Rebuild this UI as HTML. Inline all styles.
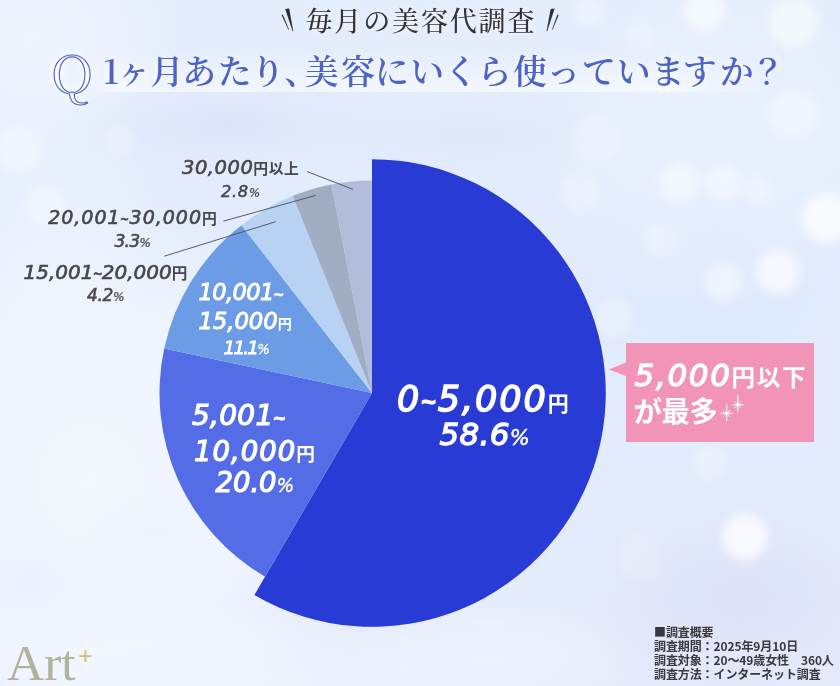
<!DOCTYPE html>
<html lang="ja">
<head>
<meta charset="utf-8">
<style>
*{margin:0;padding:0;box-sizing:border-box}
html,body{width:840px;height:686px;overflow:hidden}
body{position:relative;background:#e6edfb;font-family:"Liberation Sans","Noto Sans CJK JP",sans-serif}
#bg{position:absolute;left:0;top:0;width:840px;height:686px}
.t{position:absolute;white-space:nowrap;line-height:1}
.num{font-family:"DejaVu Sans",sans-serif;font-weight:400;font-style:oblique;-webkit-text-stroke:0.6px currentColor}
.tl{font-family:"Liberation Sans",sans-serif;font-style:normal;font-weight:700;position:relative;top:0;-webkit-text-stroke-width:0.04em}
.pc{-webkit-text-stroke-width:0.02em}
.jp{font-family:"Noto Sans CJK JP",sans-serif;font-style:normal;font-weight:700;-webkit-text-stroke:0}
.gray{color:#46474c}
.white{color:#fff}
</style>
</head>
<body>
<svg id="bg" width="840" height="686" viewBox="0 0 840 686">
  <defs>
    <linearGradient id="g0" x1="0" y1="0" x2="0" y2="1">
      <stop offset="0" stop-color="#e4edfc"/>
      <stop offset="0.5" stop-color="#e2ecfc"/>
      <stop offset="1" stop-color="#e5ebfb"/>
    </linearGradient>
    <radialGradient id="wh">
      <stop offset="0" stop-color="#fff" stop-opacity="1"/>
      <stop offset="0.6" stop-color="#fff" stop-opacity="0.8"/>
      <stop offset="1" stop-color="#fff" stop-opacity="0"/>
    </radialGradient>
    <radialGradient id="cw">
      <stop offset="0" stop-color="#f5f9ff" stop-opacity="1"/>
      <stop offset="0.6" stop-color="#f5f9ff" stop-opacity="0.7"/>
      <stop offset="1" stop-color="#f5f9ff" stop-opacity="0"/>
    </radialGradient>
    <radialGradient id="lv">
      <stop offset="0" stop-color="#d6d9f3" stop-opacity="1"/>
      <stop offset="1" stop-color="#d6d9f3" stop-opacity="0"/>
    </radialGradient>
    <radialGradient id="lb">
      <stop offset="0" stop-color="#d9e5fc" stop-opacity="1"/>
      <stop offset="1" stop-color="#d9e5fc" stop-opacity="0"/>
    </radialGradient>
    <linearGradient id="band" x1="0" y1="0" x2="1" y2="0">
      <stop offset="0" stop-color="#fff" stop-opacity="0"/>
      <stop offset="0.04" stop-color="#fff" stop-opacity="0.55"/>
      <stop offset="0.85" stop-color="#fff" stop-opacity="0.55"/>
      <stop offset="1" stop-color="#fff" stop-opacity="0"/>
    </linearGradient>
    <linearGradient id="bandv" x1="0" y1="0" x2="0" y2="1">
      <stop offset="0" stop-color="#fff" stop-opacity="0"/>
      <stop offset="1" stop-color="#fff" stop-opacity="1"/>
    </linearGradient>
    <mask id="bm"><rect x="0" y="48" width="840" height="44" fill="url(#bandv)"/></mask>
    <filter id="bl" x="-50%" y="-50%" width="200%" height="200%"><feGaussianBlur stdDeviation="5"/></filter>
  </defs>
  <rect width="840" height="686" fill="url(#g0)"/>
  <!-- broad tints -->
  <ellipse cx="90" cy="480" rx="270" ry="290" fill="url(#cw)" opacity="0.9"/>
  <ellipse cx="200" cy="680" rx="260" ry="80" fill="url(#cw)" opacity="0.6"/>
  <ellipse cx="30" cy="40" rx="150" ry="120" fill="url(#cw)" opacity="0.6"/>
  <ellipse cx="40" cy="220" rx="120" ry="120" fill="url(#cw)" opacity="0.35"/>
  <ellipse cx="490" cy="660" rx="150" ry="60" fill="url(#cw)" opacity="0.5"/>
  <ellipse cx="230" cy="125" rx="170" ry="50" fill="url(#lv)" opacity="0.4"/>
  <ellipse cx="470" cy="135" rx="160" ry="40" fill="url(#lv)" opacity="0.3"/>
  <ellipse cx="740" cy="600" rx="170" ry="110" fill="url(#lv)" opacity="0.45"/>
  <ellipse cx="720" cy="260" rx="170" ry="170" fill="url(#lb)" opacity="0.6"/>
  <ellipse cx="30" cy="580" rx="50" ry="40" fill="url(#lb)" opacity="0.25"/>
  <ellipse cx="150" cy="530" rx="70" ry="35" fill="url(#lb)" opacity="0.15"/>
  <!-- bokeh -->
  <ellipse cx="720" cy="150" rx="170" ry="170" fill="url(#cw)" opacity="0.35"/>
  <g filter="url(#bl)">
    <circle cx="18" cy="150" r="24" fill="#fff" opacity="0.35"/>
    <circle cx="45" cy="205" r="20" fill="#fff" opacity="0.3"/>
    <circle cx="120" cy="140" r="16" fill="#fff" opacity="0.25"/>
    <circle cx="704" cy="10" r="21" fill="#fff" opacity="0.6"/>
    <circle cx="793" cy="22" r="25" fill="#fff" opacity="0.55"/>
    <circle cx="590" cy="12" r="15" fill="#fff" opacity="0.3"/>
    <circle cx="640" cy="35" r="14" fill="#fff" opacity="0.25"/>
    <circle cx="793" cy="114" r="25" fill="#fff" opacity="0.35"/>
    <circle cx="595" cy="139" r="24" fill="#fff" opacity="0.25"/>
    <circle cx="679" cy="183" r="20" fill="#fff" opacity="0.5"/>
    <circle cx="723" cy="183" r="18" fill="#fff" opacity="0.45"/>
    <circle cx="757" cy="190" r="15" fill="#fff" opacity="0.35"/>
    <circle cx="827" cy="218" r="25" fill="#fff" opacity="0.75"/>
    <circle cx="778" cy="272" r="22" fill="#fff" opacity="0.65"/>
    <circle cx="723" cy="282" r="19" fill="#fff" opacity="0.45"/>
    <circle cx="580" cy="193" r="20" fill="#fff" opacity="0.25"/>
    <circle cx="614" cy="317" r="20" fill="#fff" opacity="0.25"/>
    <circle cx="660" cy="240" r="16" fill="#fff" opacity="0.25"/>
    <circle cx="745" cy="537" r="23" fill="#fff" opacity="0.75"/>
    <circle cx="640" cy="557" r="24" fill="#fff" opacity="0.15"/>
    <circle cx="710" cy="462" r="17" fill="#fff" opacity="0.25"/>
  </g>
  <!-- title band -->
  <rect x="88" y="48" width="690" height="44" fill="url(#band)" mask="url(#bm)"/>
  <!-- pie -->
  <g>
    <path d="M372,393 L372.00,159.20 A233.8,233.8 0 1 1 254.39,595.07 Z" fill="#293bd5"/>
    <path d="M372,393 L265.11,576.66 A212.5,212.5 0 0 1 164.22,348.46 Z" fill="#546ce6"/>
    <path d="M372,393 L164.22,348.46 A212.5,212.5 0 0 1 241.46,225.32 Z" fill="#6c9ce5"/>
    <path d="M372,393 L241.46,225.32 A212.5,212.5 0 0 1 292.74,195.83 Z" fill="#b8d2f3"/>
    <path d="M372,393 L292.74,195.83 A212.5,212.5 0 0 1 331.45,184.40 Z" fill="#a1adc3"/>
    <path d="M372,393 L331.45,184.40 A212.5,212.5 0 0 1 372.00,180.50 Z" fill="#b0bcd9"/>
  </g>
  <!-- leader lines -->
  <g stroke="#50545d" stroke-width="0.95">
    <line x1="307.1" y1="171.6" x2="352.9" y2="189.3"/>
    <line x1="223.3" y1="221.2" x2="315.7" y2="195.4"/>
    <line x1="164.2" y1="256.2" x2="275.8" y2="221.7"/>
  </g>
  <!-- header marks -->
  <g fill="#2e2e33">
    <polygon points="281.6,15 282.8,14.6 289,29.6 288.4,29.8"/>
    <polygon points="285.2,9 289.2,8.4 293.2,31 292.6,31.2"/>
    <polygon points="550.6,9 554.6,8.4 547.2,31.2 546.6,31"/>
    <polygon points="557.4,14.6 558.6,15 552.6,29.8 552,29.6"/>
  </g>
  <!-- callout -->
  <path d="M626,343 H814 V442 H626 V376 L608.7,369.5 L626,362.5 Z" fill="#f294b8"/>
  <g stroke="#fff" stroke-linecap="round" opacity="0.95">
    <g transform="translate(726.6,413.4)">
      <path d="M0,-8.5 L0,7" stroke-width="1.3"/><path d="M-5.5,0 L5.5,0" stroke-width="1.3"/>
      <path d="M-3.2,-3.2 L3.2,3.2 M-3.2,3.2 L3.2,-3.2" stroke-width="0.9"/>
      <circle r="1.8" fill="#fff" stroke="none"/>
    </g>
    <g transform="translate(737.7,404.7)">
      <path d="M0,-8.5 L0,6.5" stroke-width="1.3"/><path d="M-5,0 L5.5,0" stroke-width="1.3"/>
      <path d="M-3,-3 L3,3 M-3,3 L3,-3" stroke-width="0.9"/>
      <circle r="1.8" fill="#fff" stroke="none"/>
    </g>
  </g>
</svg>

<!-- header -->
<div class="t" id="hd" style="left:305.5px;top:5.5px;font-size:27px;color:#333338;font-family:'Noto Serif CJK JP','Noto Serif CJK SC',serif;font-weight:500;letter-spacing:1.85px;text-shadow:0 0 6px rgba(255,255,255,0.9)">毎月の美容代調査</div>
<div class="t" id="q" style="left:50.5px;top:46px;font-size:51px;transform:scaleX(1.08);transform-origin:0 0;color:transparent;-webkit-text-stroke:1.1px #5569c9;text-shadow:0 0 5px #fff,0 0 9px #fff;font-family:'Noto Serif CJK JP','Noto Serif CJK SC',serif">Q</div>
<div class="t" id="ttl" style="left:102px;top:53px;font-size:34px;color:#4d63c9;font-family:'Noto Serif CJK JP','Noto Serif CJK SC',serif;font-weight:600;letter-spacing:2.7px;font-feature-settings:'palt';text-shadow:0 0 6px rgba(255,255,255,0.9)"><span class="tc" style="position:relative;left:1.00px">1</span><span class="tc" style="position:relative;left:-0.30px">ヶ</span><span class="tc" style="position:relative;left:2.40px">月</span><span class="tc" style="position:relative;left:-1.60px">あ</span><span class="tc" style="position:relative;left:-2.20px">た</span><span class="tc" style="position:relative;left:-2.30px">り</span><span class="tc" style="position:relative;left:-1.00px">、</span><span class="tc" style="position:relative;left:-0.90px">美</span><span class="tc" style="position:relative;left:-1.40px">容</span><span class="tc" style="position:relative;left:-4.90px">に</span><span class="tc" style="position:relative;left:-7.10px">い</span><span class="tc" style="position:relative;left:-5.40px">く</span><span class="tc" style="position:relative;left:-2.00px">ら</span><span class="tc" style="position:relative;left:-1.00px">使</span><span class="tc" style="position:relative;left:-0.45px">っ</span><span class="tc" style="position:relative;left:2.20px">て</span><span class="tc" style="position:relative;left:1.40px">い</span><span class="tc" style="position:relative;left:0.80px">ま</span><span class="tc" style="position:relative;left:-0.90px">す</span><span class="tc" style="position:relative;left:-0.10px">か</span><span class="tc" style="position:relative;left:0.70px">？</span></div>

<!--LABELS-->
<div class="t num" id="l1" style="left:182.00px;top:157.67px;font-size:19.50px;letter-spacing:0.52px;color:#47484d;-webkit-text-stroke-width:0.62px">30,000<span class="jp" style="font-size:14.82px">円以上</span></div>
<div class="t num" id="l2" style="left:221.00px;top:183.70px;font-size:16.30px;letter-spacing:0.67px;color:#47484d;-webkit-text-stroke-width:0.52px">2.8<span class="pc" style="font-size:11.74px">%</span></div>
<div class="t num" id="l3" style="left:48.20px;top:208.04px;font-size:19.00px;letter-spacing:0.99px;color:#47484d;-webkit-text-stroke-width:0.61px">20,001<span class="tl" style="font-size:13.68px">~</span>30,000<span class="jp" style="font-size:14.82px">円</span></div>
<div class="t num" id="l4" style="left:114.40px;top:232.59px;font-size:17.20px;letter-spacing:-0.80px;color:#47484d;-webkit-text-stroke-width:0.55px">3.3<span class="pc" style="font-size:12.38px">%</span></div>
<div class="t num" id="l5" style="left:23.60px;top:261.56px;font-size:20.00px;letter-spacing:-0.02px;color:#47484d;-webkit-text-stroke-width:0.64px">15,001<span class="tl" style="font-size:14.4px">~</span>20,000<span class="jp" style="font-size:15.6px">円</span></div>
<div class="t num" id="l6" style="left:87.00px;top:287.30px;font-size:17.00px;letter-spacing:-0.33px;color:#47484d;-webkit-text-stroke-width:0.54px">4.2<span class="pc" style="font-size:12.24px">%</span></div>
<div class="t num" id="l7" style="left:198.50px;top:280.78px;font-size:22.50px;letter-spacing:-0.56px;color:#fff;-webkit-text-stroke-width:0.95px">10,001<span class="tl" style="font-size:16.2px">~</span></div>
<div class="t num" id="l8" style="left:198.40px;top:309.66px;font-size:22.80px;letter-spacing:-0.08px;color:#fff;-webkit-text-stroke-width:0.96px">15,000<span class="jp" style="font-size:14.14px">円</span></div>
<div class="t num" id="l9" style="left:223.50px;top:339.17px;font-size:18.40px;letter-spacing:-1.81px;color:#fff;-webkit-text-stroke-width:0.77px">11.1<span class="pc" style="font-size:13.25px">%</span></div>
<div class="t num" id="l10" style="left:192.00px;top:402.10px;font-size:28.00px;letter-spacing:0.26px;color:#fff;-webkit-text-stroke-width:1.18px">5,001<span class="tl" style="font-size:20.16px">~</span></div>
<div class="t num" id="l11" style="left:194.00px;top:437.73px;font-size:27.50px;letter-spacing:1.00px;color:#fff;-webkit-text-stroke-width:1.16px">10,000<span class="jp" style="font-size:18.7px">円</span></div>
<div class="t num" id="l12" style="left:215.60px;top:469.25px;font-size:27.50px;letter-spacing:-0.07px;color:#fff;-webkit-text-stroke-width:1.16px">20.0<span class="pc" style="font-size:18.7px">%</span></div>
<div class="t num" id="l13" style="left:397.00px;top:381.53px;font-size:35.00px;letter-spacing:1.93px;color:#fff;-webkit-text-stroke-width:1.47px">0<span class="tl" style="font-size:25.2px">~</span>5,000<span class="jp" style="font-size:21.0px">円</span></div>
<div class="t num" id="l14" style="left:439.40px;top:419.45px;font-size:31.00px;letter-spacing:0.32px;color:#fff;-webkit-text-stroke-width:1.30px">58.6<span class="pc" style="font-size:21.08px">%</span></div>
<div class="t num" id="l15" style="left:634.60px;top:360.45px;font-size:31.00px;letter-spacing:1.64px;color:#fff;-webkit-text-stroke-width:1.30px">5,000<span class="jp" style="font-size:23.56px">円以下</span></div>
<div class="t num" id="l16" style="left:633.60px;top:395.85px;font-size:28.50px;letter-spacing:-0.55px;color:#fff;-webkit-text-stroke-width:1.20px"><span class="jp" style="font-size:28.5px">が最多</span></div>
<!--/LABELS-->

<!-- survey -->
<div class="t" style="left:654px;top:624.8px;font-size:12px;line-height:14.2px;color:#38383d;font-family:'Noto Sans CJK JP',sans-serif;font-weight:700;letter-spacing:-0.1px">■調査概要<br>調査期間：2025年9月10日<br>調査対象：20〜49歳女性　360人<br>調査方法：インターネット調査</div>

<!-- logo -->
<div class="t" id="logo" style="left:7px;top:637px;font-size:51.5px;color:#b3b29a;font-family:'Liberation Serif',serif">Art</div>
<div class="t" id="plus" style="left:78px;top:644px;font-size:26px;color:#d6bf78;font-weight:700;font-family:'Liberation Serif',serif">+</div>
</body>
</html>
